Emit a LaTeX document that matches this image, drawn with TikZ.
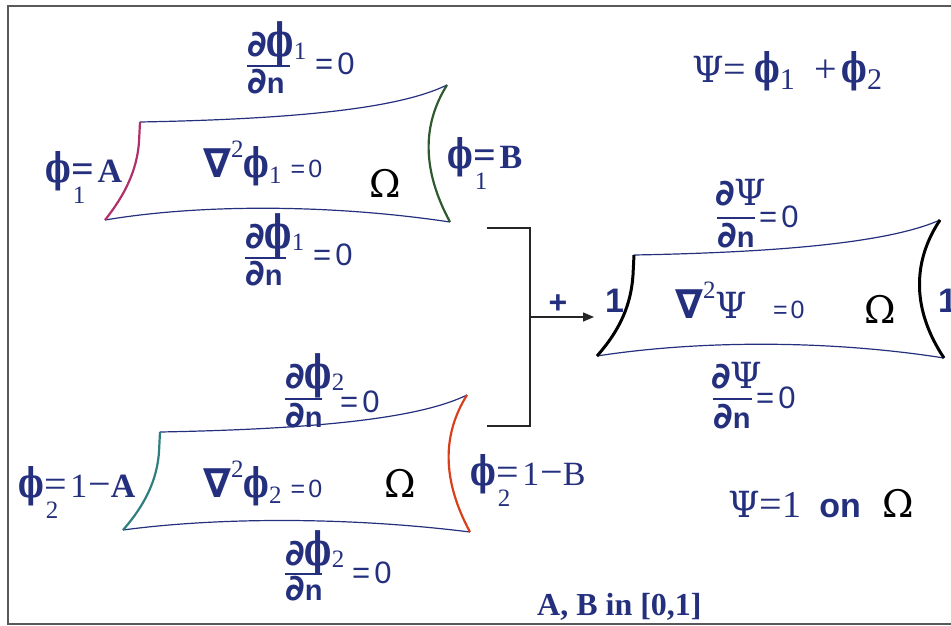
\documentclass[tikz,border=0pt]{standalone}
\usepackage{fontspec}
\usepackage{graphicx}
\setmainfont{Liberation Serif}
\newfontfamily\grk{DejaVu Serif}
\newfontfamily\sns{Liberation Sans}
\newfontfamily\djs{DejaVu Sans}
\usetikzlibrary{arrows.meta}
\definecolor{navy}{HTML}{24307E}
\definecolor{magside}{HTML}{B0306A}
\definecolor{grnside}{HTML}{2F5A2F}
\definecolor{tealside}{HTML}{2F7F7F}
\definecolor{redside}{HTML}{D8401C}
\newcommand\ph{\scalebox{0.8}[1.2]{\grk\bfseries ϕ}}
\newcommand\phb{\scalebox{0.85}[1.35]{\grk\bfseries ϕ}}
\newcommand\sbs[1]{{\normalfont\fontsize{25}{25}\selectfont #1}}
\newcommand\pdl{{\djs\bfseries\fontsize{36}{36}\selectfont ∂}}
\newcommand\dn{{\sns\bfseries\fontsize{29}{29}\selectfont n}}
\newcommand\eqz{{\sns\fontsize{31}{31}\selectfont =\kern4pt0}}
\newcommand\eqzs{{\sns\fontsize{25}{25}\selectfont =\kern3pt0}}
\newcommand\Psy{{\grk\fontsize{36}{36}\selectfont Ψ}}
\newcommand\Om{{\color{black}\grk\fontsize{38}{38}\selectfont Ω}}
\newcommand\nab{{\djs\bfseries\fontsize{40}{40}\selectfont ∇}}
\newcommand\eqs{{\fontsize{40}{40}\selectfont =}}
\newcommand\mns{{\fontsize{40}{40}\selectfont −}}
\begin{document}
\begin{tikzpicture}[x=1pt,y=-1pt,
  txt/.style={inner sep=0pt, anchor=base west, text=navy, font=\fontsize{34}{36}\selectfont},
  edgeline/.style={draw=navy, line width=1.2pt},
  sideline/.style={line width=2.2pt},
  fracbar/.style={draw=navy, line width=2.6pt},
  conn/.style={draw=black!85, line width=1.5pt},
  frame/.style={draw=black!65, line width=2pt}]
\useasboundingbox (0,0) rectangle (951,626);
% frame
\draw[frame] (951,6) -- (8,6) -- (8,624) -- (951,624);

% ---------- box 1 ----------
\draw[edgeline] (140,122) .. controls (300,119) and (400,108) .. (447,85);
\draw[edgeline] (105,220) .. controls (200,204) and (330,204) .. (450,222);
\draw[sideline, draw=magside] (140,122) -- (139,142) .. controls (137,170) and (125,195) .. (105,220);
\draw[sideline, draw=grnside] (447,85) .. controls (422,125) and (422,170) .. (450,222);

% ---------- box 2 ----------
\draw[edgeline] (160,432) .. controls (320,429) and (420,418) .. (467,395);
\draw[edgeline] (123,530) .. controls (220,517) and (350,517) .. (470,532);
\draw[sideline, draw=tealside] (160,432) -- (159,452) .. controls (157,480) and (145,505) .. (123,530);
\draw[sideline, draw=redside] (467,395) .. controls (442,435) and (442,480) .. (470,532);

% ---------- box 3 ----------
\draw[edgeline] (634,255) .. controls (800,252) and (895,240) .. (940,220);
\draw[edgeline] (597,356) .. controls (700,340) and (830,340) .. (944,358);
\draw[line width=3pt, draw=black] (634,255) -- (633,275) .. controls (631,305) and (620,330) .. (597,356);
\draw[line width=3pt, draw=black] (940,220) .. controls (912,262) and (912,310) .. (944,358);

% ---------- connector ----------
\coordinate (j1) at (487,228);
\coordinate (j2) at (530,228);
\coordinate (j3) at (530,426);
\coordinate (j4) at (487,426);
\coordinate (j5) at (530,317);
\coordinate (j6) at (594,317);
\draw[conn] (j1) -- (j2) -- (j3) -- (j4);
\draw[conn, -{Triangle[length=11pt,width=9pt]}] (j5) -- (j6);
\node[inner sep=0pt, text=navy, font=\sns\bfseries\fontsize{32}{32}\selectfont] (plus) at (558,304) {+};

% ---------- box 1 labels ----------
\node[txt] (n1) at (247,57) {\pdl\phb\raisebox{-2pt}{\sbs{1}}};
\draw[fracbar] (247,66) -- (290,66);
\node[txt] (d1) at (247,93) {\pdl\dn};
\node[txt] (e1) at (315,75) {\eqz};

\node[txt] (n2) at (245,248) {\pdl\phb\raisebox{-2pt}{\sbs{1}}};
\draw[fracbar] (245,258) -- (286,258);
\node[txt] (d2) at (245,285) {\pdl\dn};
\node[txt] (e2) at (313,265) {\eqz};

\node[txt] (phA) at (45,182) {\ph\rlap{\raisebox{-21pt}{\kern2pt\sbs{1}}}\kern1pt{\bfseries\eqs\kern3pt A}};
\node[txt] (phB) at (447,168) {\ph\rlap{\raisebox{-21pt}{\kern2pt\sbs{1}}}\kern1pt{\bfseries\eqs\kern3pt B}};
\node[txt] (lap1) at (203,177) {\nab\raisebox{20pt}{\sbs{2}}\ph\raisebox{-6pt}{\sbs{1}}\hspace{9pt}\eqzs};
\node[txt] (om1) at (369,197) {\Om};

% ---------- box 2 labels ----------
\node[txt] (n3) at (285,388) {\pdl\phb\raisebox{-2pt}{\sbs{2}}};
\draw[fracbar] (285,399) -- (322,399);
\node[txt] (d3) at (285,427) {\pdl\dn};
\node[txt] (e3) at (340,412) {\eqz};

\node[txt] (n4) at (285,565) {\pdl\phb\raisebox{-2pt}{\sbs{2}}};
\draw[fracbar] (285,574) -- (322,574);
\node[txt] (d4) at (285,600) {\pdl\dn};
\node[txt] (e4) at (352,583) {\eqz};

\node[txt] (phC) at (18,497) {\ph\rlap{\raisebox{-21pt}{\kern2pt\sbs{2}}}\kern1pt\eqs\kern3pt1\kern1pt\mns{\bfseries A}};
\node[txt] (phD) at (470,485) {\ph\rlap{\raisebox{-21pt}{\kern2pt\sbs{2}}}\kern1pt\eqs\kern3pt1\kern1pt\mns B};
\node[txt] (lap2) at (203,497) {\nab\raisebox{20pt}{\sbs{2}}\ph\raisebox{-6pt}{\sbs{2}}\hspace{9pt}\eqzs};
\node[txt] (om2) at (384,497) {\Om};

% ---------- box 3 labels ----------
\node[txt] (n5) at (715,205) {\pdl\Psy};
\draw[fracbar] (717,218) -- (755,218);
\node[txt] (d5) at (717,247) {\pdl\dn};
\node[txt] (e5) at (759,227) {\eqz};

\node[txt] (n6) at (711,388) {\pdl\Psy};
\draw[fracbar] (713,399) -- (752,399);
\node[txt] (d6) at (713,428) {\pdl\dn};
\node[txt] (e6) at (756,408) {\eqz};

\node[txt] (oneL) at (605,312) {{\sns\bfseries 1}};
\node[txt] (oneR) at (938,312) {{\sns\bfseries 1}};
\node[txt] (lap3) at (675,318) {\nab\raisebox{20pt}{\sbs{2}}\Psy\hspace{26pt}\eqzs};
\node[txt] (om3) at (864,323) {\Om};

% ---------- free texts ----------
\node[txt] (psi) at (692,82) {\Psy\eqs\kern8pt\ph\raisebox{-8pt}{\normalfont\fontsize{30}{30}\selectfont 1}\hspace{20pt}{\fontsize{40}{40}\selectfont +}\kern4pt\ph\raisebox{-8pt}{\normalfont\fontsize{30}{30}\selectfont 2}};
\node[txt] (psione) at (728,517) {\Psy\eqs{\fontsize{38}{38}\selectfont 1}\hspace{18pt}{\sns\bfseries on}\hspace{22pt}\Om};
\node[txt, font=\fontsize{32}{34}\selectfont] (ab) at (537,615) {\bfseries A, B in [0,1]};
\end{tikzpicture}
\end{document}
